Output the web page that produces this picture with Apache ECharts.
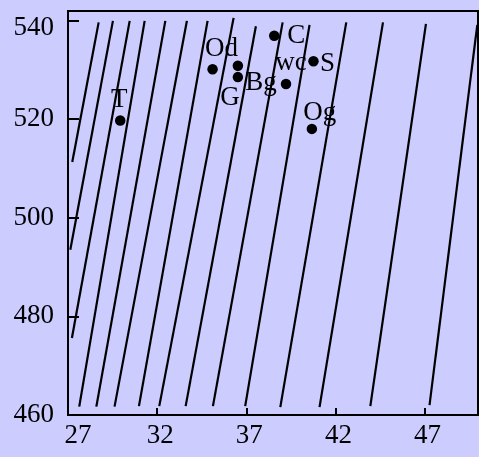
<!DOCTYPE html>
<html><head><meta charset="utf-8">
<script src="https://cdn.jsdelivr.net/npm/echarts@6/dist/echarts.min.js"></script>
<style>html,body{margin:0;padding:0;background:#ccccff}#c{width:479px;height:457px}</style>
</head><body><div id="c"></div>
<script>
// Data
const pointNames = ['T', 'Od', 'Bg', 'G', 'C', 'wc', 'S', 'Og'];
const pointX = [29.93, 35.11, 36.53, 36.53, 38.57, 39.23, 40.77, 40.68];
const pointY = [519.7, 530.1, 530.8, 528.5, 536.9, 527.1, 531.7, 518.0];

const lineStartX = [27.24, 27.13, 27.22, 27.63, 28.59, 29.61, 30.98, 32.12, 33.60, 35.13, 36.94, 38.91, 41.11, 43.96, 47.28];
const lineStartY = [511.3, 493.5, 475.6, 461.7, 461.7, 461.7, 461.8, 461.8, 461.8, 461.8, 461.8, 461.6, 461.6, 461.8, 462.0];
const lineEndX = [28.72, 29.52, 30.46, 31.30, 32.46, 33.67, 34.83, 36.29, 37.54, 39.04, 40.55, 42.61, 44.67, 47.08, 49.96];
const lineEndY = [539.6, 539.9, 539.9, 539.9, 539.9, 539.9, 539.9, 540.5, 538.8, 539.6, 539.1, 539.6, 539.6, 539.3, 539.1];

// Label placement (offset of label centre from point centre, px)
const labelOffsets = {
  'T': [-1, -21], 'Od': [9, -20], 'Bg': [23, 17], 'G': [-8, 21],
  'C': [22, 0], 'wc': [5, -21], 'S': [14, 3], 'Og': [8, -16]
};

const FONT = 'Liberation Serif';
const series = [];
for (let i = 0; i < lineStartX.length; i++) {
  series.push({
    type: 'line', silent: true, symbol: 'none',
    lineStyle: { color: '#000', width: 2.2 },
    data: [[lineStartX[i], lineStartY[i]], [lineEndX[i], lineEndY[i]]],
    z: 2
  });
}
series.push({
  type: 'scatter', symbol: 'circle', symbolSize: 10.5,
  itemStyle: { color: '#000', opacity: 1 }, z: 3,
  data: pointNames.map((n, i) => ({
    name: n, value: [pointX[i], pointY[i]],
    label: {
      show: true, formatter: n, position: 'inside', align: 'center', verticalAlign: 'middle',
      offset: labelOffsets[n], color: '#000', fontFamily: FONT, fontSize: 27
    }
  }))
});

const labelText = { color: '#000', fontFamily: FONT, fontSize: 27 };
const chart = echarts.init(document.getElementById('c'), null, { renderer: 'canvas' });
chart.setOption({
  animation: false,
  backgroundColor: '#ccccff',
  grid: { left: 68, right: 1, top: 11, bottom: 42, show: true, borderColor: '#000', borderWidth: 2, backgroundColor: 'transparent' },
  xAxis: {
    type: 'value', min: 27, max: 50, interval: 5,
    axisLine: { show: true, lineStyle: { color: '#000', width: 2 } },
    axisTick: { show: true, inside: true, length: 7, lineStyle: { color: '#000', width: 2 } },
    axisLabel: {
      color: '#000', fontFamily: FONT, fontSize: 27, margin: 7, showMaxLabel: false,
      formatter: v => v === 27 ? '{f|' + v + '}' : '{n|' + v + '}',
      rich: {
        f: Object.assign({ padding: [0, 0, 0, 20] }, labelText),
        n: Object.assign({ padding: [0, 0, 0, 6] }, labelText)
      }
    },
    splitLine: { show: false }
  },
  yAxis: {
    type: 'value', min: 460, max: 541.9, interval: 20,
    axisLine: { show: true, lineStyle: { color: '#000', width: 2 } },
    axisTick: { show: true, inside: true, length: 11, lineStyle: { color: '#000', width: 2 } },
    axisLabel: {
      color: '#000', fontFamily: FONT, fontSize: 27, margin: 14, showMaxLabel: false,
      formatter: v => v === 540 ? '{t|' + v + '}' : '{n|' + v + '}',
      rich: {
        t: Object.assign({ padding: [16, 0, 0, 0] }, labelText),
        n: Object.assign({}, labelText)
      }
    },
    splitLine: { show: false }
  },
  series: series
});
</script>
</body></html>
